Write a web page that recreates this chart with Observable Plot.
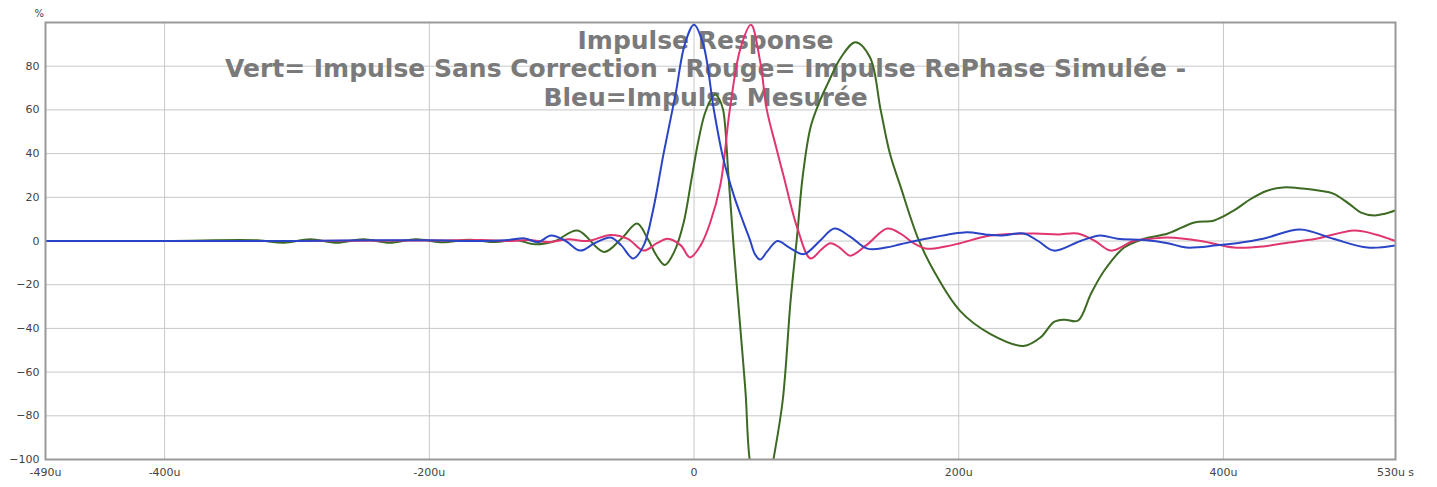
<!DOCTYPE html>
<html>
<head>
<meta charset="utf-8">
<script src="https://cdn.jsdelivr.net/npm/d3@7"></script>
<script src="https://cdn.jsdelivr.net/npm/@observablehq/plot@0.6"></script>
<style>
  html, body { margin: 0; padding: 0; background: #fff; }
  #chart { width: 1437px; height: 487px; }
</style>
</head>
<body>
<div id="chart"></div>
<script>
// ---- data (time in microseconds, amplitude in %) ----
const titleLines = [
  "Impulse Response",
  "Vert= Impulse Sans Correction - Rouge= Impulse RePhase Simulée -",
  "Bleu=Impulse Mesurée"
];
const xTicks = [-490, -400, -200, 0, 200, 400, 530];
const xTickLabels = ["-490u", "-400u", "-200u", "0", "200u", "400u", "530u s"];
const xGrid = [-400, -200, 0, 200, 400];
const yTicks = [-100, -80, -60, -40, -20, 0, 20, 40, 60, 80];
const yGrid = [-80, -60, -40, -20, 0, 20, 40, 60, 80];

// Green: Impulse sans correction
const greenT = [-490, -400, -330, -310, -290, -270, -250, -230, -210, -190, -170, -150, -135, -120, -105, -88, -68, -55, -43, -35, -28, -22, -15, -8, -2, 3, 8, 13, 16, 19, 22, 26, 30, 35, 39, 42, 51, 60, 67, 73, 78, 82, 88, 95, 101, 111, 122, 133, 141, 148, 156, 169, 181, 201, 224, 249, 262, 272, 280, 290, 300, 310, 325, 340, 358, 378, 393, 408, 420, 433, 445, 460, 473, 483, 495, 504, 514, 522, 530];
const greenV = [0, 0, 0.3, -0.8, 0.8, -0.8, 0.8, -0.8, 0.8, -0.6, 0.6, -0.5, 0.5, -1.5, 0, 4.8, -5, 1, 8, 1, -7, -11, -5, 8, 28, 45, 58, 65, 67, 65, 60, 30, -3, -40, -70, -100, -130, -100, -73, -27, 3, 29, 52, 64, 72, 84, 91, 84, 60, 40, 25, 1.6, -13.5, -32, -42.6, -48, -44, -37, -36, -36.5, -24, -13.5, -3, 1, 3.4, 8.5, 9.4, 14, 19, 23, 24.5, 24, 23, 21.7, 17, 13, 11.7, 12.5, 14];

// Red: Impulse RePhase simulée
const redT = [-490, -300, -200, -160, -140, -125, -110, -95, -80, -63, -50, -38, -28, -20, -10, -3, 5, 12, 20, 27, 35, 43, 50, 55, 62, 68, 78, 88, 96, 103, 110, 118, 130, 146, 156, 166, 176, 190, 201, 224, 257, 275, 290, 303, 315, 332, 345, 358, 383, 408, 430, 446, 470, 499, 515, 530];
const redV = [0, 0, 0.2, 0.5, 0, 0.5, -0.5, 0.8, 0, 2.8, 1, -4.4, -1, 1, -2, -7.5, -2, 8, 26, 60, 88, 99, 82, 60, 43, 29, 6, -8, -4, -1, -3, -6.7, -2, 5.7, 3.4, -1, -3.5, -2.5, -1, 2.5, 3.4, 3, 3.4, 0, -4.4, 0, 1, 1.6, 0, -3, -2.5, -1, 1, 4.8, 3, 0];

// Blue: Impulse mesurée
const blueT = [-490, -400, -300, -250, -200, -160, -140, -128, -118, -108, -97, -86, -75, -63, -55, -46, -38, -31, -23, -14, -7, 0, 7, 15, 22, 30, 37, 42, 46, 50, 55, 63, 72, 83, 95, 106, 118, 131, 145, 156, 175, 206, 220, 232, 249, 260, 272, 292, 307, 320, 340, 358, 372, 395, 410, 430, 458, 483, 509, 530];
const blueV = [0, 0, 0, 0.3, 0.3, 0, 0.5, 1.2, -0.5, 2.5, 0, -4.4, -1, 1.6, -2, -8, -2, 14, 40, 67, 90, 99, 90, 60, 38, 21, 9, 1, -6, -8.5, -5, 0, -3, -6, 0, 5.7, 2, -3.5, -3, -1.5, 1, 4, 3, 2.5, 3.4, 0, -4.4, 0, 2.5, 1, 0.5, -1, -3, -2, -1, 1, 5.3, 1, -3, -2];

const seriesColors = { green: "#3d6a22", red: "#e0356f", blue: "#2a44c6" };

const toRows = (ts, vs) => ts.map((t, i) => ({ t, v: vs[i] }));
const green = toRows(greenT, greenV);
const red = toRows(redT, redV);
const blue = toRows(blueT, blueV);

const chart = Plot.plot({
  width: 1437,
  height: 487,
  marginLeft: 45,
  marginRight: 42,
  marginTop: 22,
  marginBottom: 28,
  style: { fontFamily: "DejaVu Sans, sans-serif", fontSize: "11px", color: "#444", background: "#fff" },
  x: { domain: [-490, 530] },
  y: { domain: [-100, 100] },
  marks: [
    Plot.gridX(xGrid, { stroke: "#c8c8c8", strokeOpacity: 1, strokeWidth: 1 }),
    Plot.gridY(yGrid, { stroke: "#c8c8c8", strokeOpacity: 1, strokeWidth: 1 }),
    Plot.axisX(xTicks, {
      tickSize: 0, tickPadding: 9, fontSize: 11, fill: "#444",
      tickFormat: (d) => xTickLabels[xTicks.indexOf(d)], label: null
    }),
    Plot.axisY(yTicks, { tickSize: 0, tickPadding: 6, fontSize: 11, fill: "#444", label: null }),
    Plot.text(["%"], { frameAnchor: "top-left", dx: -11, dy: -13, fontSize: 10, fill: "#444" }),
    Plot.text([titleLines.join("\n")], {
      frameAnchor: "top", dx: -15, dy: 6, lineAnchor: "top", lineHeight: 1.14,
      fontSize: 25, fontWeight: "bold", fill: "#7a7a7a"
    }),
    Plot.line(green, { x: "t", y: "v", stroke: seriesColors.green, strokeWidth: 2, curve: "catmull-rom", clip: true }),
    Plot.line(red, { x: "t", y: "v", stroke: seriesColors.red, strokeWidth: 2, curve: "catmull-rom", clip: true }),
    Plot.line(blue, { x: "t", y: "v", stroke: seriesColors.blue, strokeWidth: 2, curve: "catmull-rom", clip: true }),
    Plot.frame({ stroke: "#999", strokeWidth: 2 })
  ]
});
document.getElementById("chart").appendChild(chart);
</script>
</body>
</html>
